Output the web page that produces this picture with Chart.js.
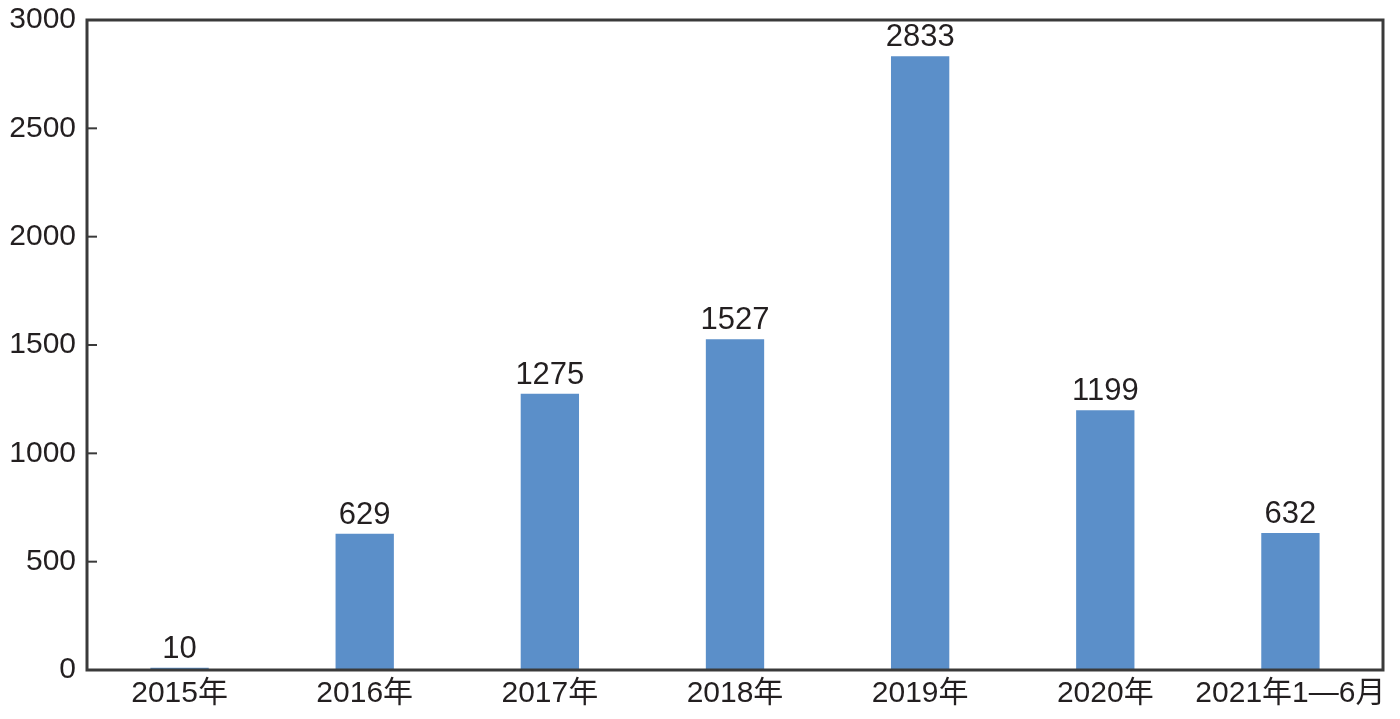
<!DOCTYPE html>
<html lang="zh">
<head>
<meta charset="UTF-8">
<title>Chart</title>
<style>
  html, body { margin: 0; padding: 0; background: #fff; }
</style>
</head>
<body>
<canvas id="chart" width="1400" height="719"></canvas>
<script src="https://cdn.jsdelivr.net/npm/chart.js"></script>
<script>
const categories = ['2015年', '2016年', '2017年', '2018年', '2019年', '2020年', '2021年1—6月'];
const values = [10, 629, 1275, 1527, 2833, 1199, 632];
const yTicks = [0, 500, 1000, 1500, 2000, 2500, 3000];

const FONT = '"Liberation Sans", Arial, "Noto Sans CJK SC", sans-serif';
const INK = '#231f20';

// box around the plot + inward ticks on the y axis
const framePlugin = {
  id: 'frame',
  afterDraw(chart) {
    const { ctx, chartArea: a, scales } = chart;
    ctx.save();
    ctx.strokeStyle = '#3a3a3a';
    ctx.lineWidth = 3;
    ctx.strokeRect(a.left, a.top, a.right - a.left, a.bottom - a.top);
    ctx.lineWidth = 2;
    yTicks.forEach(v => {
      if (v === 0 || v === 3000) return;
      const y = scales.y.getPixelForValue(v);
      ctx.beginPath();
      ctx.moveTo(a.left, y);
      ctx.lineTo(a.left + 10, y);
      ctx.stroke();
    });
    ctx.restore();
  }
};

// value labels above each bar
const labelPlugin = {
  id: 'barLabels',
  afterDatasetsDraw(chart) {
    const { ctx } = chart;
    const meta = chart.getDatasetMeta(0);
    ctx.save();
    ctx.fillStyle = INK;
    ctx.font = '31px ' + FONT;
    ctx.textAlign = 'center';
    ctx.textBaseline = 'bottom';
    meta.data.forEach((bar, i) => {
      ctx.fillText(String(values[i]), bar.x, bar.y - 3);
    });
    ctx.restore();
  }
};

new Chart(document.getElementById('chart'), {
  type: 'bar',
  data: {
    labels: categories,
    datasets: [{
      data: values,
      backgroundColor: '#5b8fc9',
      borderWidth: 0,
      barPercentage: 0.315,
      categoryPercentage: 1
    }]
  },
  options: {
    responsive: false,
    animation: false,
    devicePixelRatio: 1,
    layout: { padding: { top: 20, right: 17, left: 0, bottom: 0 } },
    plugins: { legend: { display: false }, tooltip: { enabled: false } },
    scales: {
      x: {
        grid: { display: false, drawTicks: false },
        border: { display: false },
        ticks: { color: INK, font: { family: FONT, size: 30 }, padding: 6, maxRotation: 0, autoSkip: false },
        afterFit(s) { s.height = 49; s.paddingLeft = 0; s.paddingRight = 0; }
      },
      y: {
        min: 0, max: 3000,
        grid: { display: false, drawTicks: false },
        border: { display: false },
        ticks: {
          stepSize: 500, autoSkip: false,
          color: INK, font: { family: FONT, size: 30 }, padding: 11,
          callback: v => String(v)
        },
        afterFit(s) { s.width = 87; s.paddingTop = 0; s.paddingBottom = 0; }
      }
    }
  },
  plugins: [framePlugin, labelPlugin]
});
</script>
</body>
</html>
